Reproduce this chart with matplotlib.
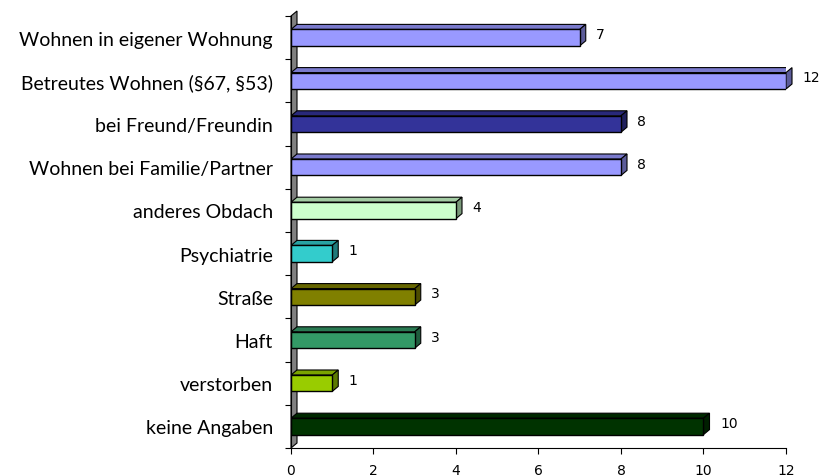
import matplotlib.pyplot as plt
from matplotlib.patches import Polygon
import matplotlib.colors as mcolors

categories = ['Wohnen in eigener Wohnung', 'Betreutes Wohnen (§67, §53)', 'bei Freund/Freundin',
              'Wohnen bei Familie/Partner', 'anderes Obdach', 'Psychiatrie', 'Straße', 'Haft',
              'verstorben', 'keine Angaben']
values = [7, 12, 8, 8, 4, 1, 3, 3, 1, 10]
colors = ['#9999FF', '#9999FF', '#333399', '#9999FF', '#CCFFCC', '#33CCCC', '#808000',
          '#339966', '#99CC00', '#003300']
xticks = [0, 2, 4, 6, 8, 10, 12]

W, H = 820, 477
fig = plt.figure(figsize=(W / 100, H / 100), dpi=100)
ax = fig.add_axes([291 / W, 1 - 449 / H, (786 - 291) / W, (449 - 17) / H])

ax.set_xlim(0, 12)
ax.set_ylim(len(categories) - 0.5, -0.5)

# 3d depth in data units (~6px right, ~5px up)
dx = 6 / (495 / 12)
dy = 5 / (432 / len(categories))
bh = 0.38


def shade(c, f):
    r, g, b = mcolors.to_rgb(c)
    return (r * f, g * f, b * f)


# side wall of the y axis
wall = Polygon([(0, -0.5), (dx, -0.5 - dy), (dx, 9.5 - dy), (0, 9.5)], closed=True,
               facecolor='#808080', edgecolor='black', lw=0.8, zorder=1, clip_on=False)
ax.add_patch(wall)

for i, (v, c) in enumerate(zip(values, colors)):
    y0, y1 = i - bh / 2, i + bh / 2
    ax.barh(i, v, height=bh, color=c, edgecolor='black', lw=1.0, zorder=3)
    top = Polygon([(0, y0), (dx, y0 - dy), (v + dx, y0 - dy), (v, y0)], closed=True,
                  facecolor=shade(c, 0.8), edgecolor='black', lw=0.8, zorder=2)
    side = Polygon([(v, y0), (v + dx, y0 - dy), (v + dx, y1 - dy), (v, y1)], closed=True,
                   facecolor=shade(c, 0.6), edgecolor='black', lw=0.8, zorder=2, clip_on=False)
    ax.add_patch(top)
    ax.add_patch(side)
    ax.text(v + 0.4, i - 0.08, str(v), fontsize=10, family='DejaVu Sans',
            va='center', ha='left')

ax.set_yticks([i + 0.5 for i in range(-1, len(categories))])
ax.set_yticklabels([])
ax.set_yticks(range(len(categories)), minor=True)
ax.set_yticklabels(categories, minor=True, fontsize=14, family='Lato')
ax.tick_params(axis='y', which='major', length=4, width=0.8, direction='out')
ax.tick_params(axis='y', which='minor', length=0, pad=13)

ax.set_xticks(xticks)
ax.set_xticklabels([str(t) for t in xticks], fontsize=10, family='DejaVu Sans')
ax.tick_params(axis='x', length=4, width=0.8, direction='out', pad=7)

for s in ['top', 'right']:
    ax.spines[s].set_visible(False)
ax.spines['left'].set_linewidth(0.8)
ax.spines['bottom'].set_linewidth(0.8)
ax.spines['left'].set_zorder(4)

fig.savefig('out.png', dpi=100)
